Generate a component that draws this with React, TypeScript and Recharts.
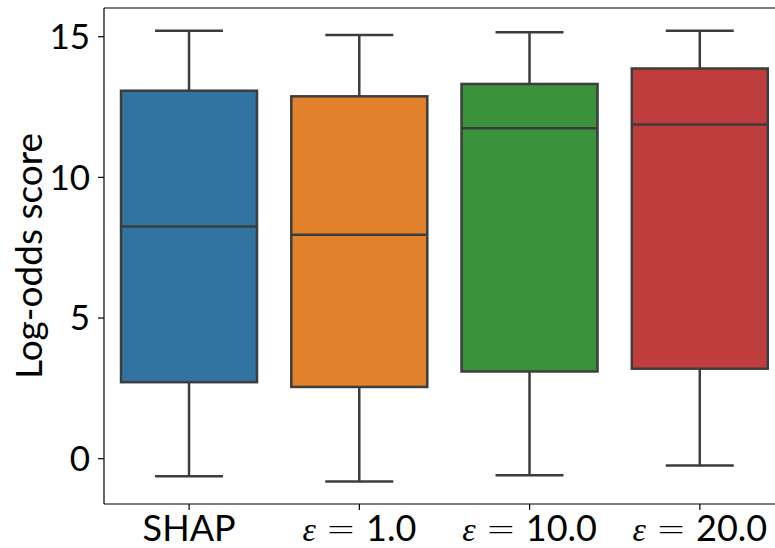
import React from 'react';
import { BarChart, Bar, XAxis, YAxis, ReferenceLine, Cell } from 'recharts';

// box statistics per method (log-odds score)
const categories = ['SHAP', 'ε = 1.0', 'ε = 10.0', 'ε = 20.0'];
const whiskerLow = [-0.62, -0.81, -0.59, -0.24];
const q1 = [2.72, 2.55, 3.1, 3.2];
const median = [8.25, 7.96, 11.75, 11.88];
const q3 = [13.08, 12.88, 13.32, 13.87];
const whiskerHigh = [15.21, 15.06, 15.16, 15.21];
const yTicks = [0, 5, 10, 15];

const COLORS = ['#3274a1', '#e1812c', '#3a923a', '#c03d3e'];
const LINE = '#3d3d3d';
const FONT = 'Lato, "DejaVu Sans", sans-serif';

const data = categories.map((name, i) => ({
  name,
  lo: whiskerLow[i],
  q1: q1[i],
  med: median[i],
  q3: q3[i],
  hi: whiskerHigh[i],
}));

// bar spans [lo, hi]; the rest of the box is placed along that same scale
function BoxShape(props: any) {
  const { x, y, width, height, payload, fill } = props;
  const top = Math.min(y, y + height);
  const h = Math.abs(height);
  const { lo, hi } = payload;
  const py = (v: number) => top + (h * (hi - v)) / (hi - lo);
  const cx = x + width / 2;
  const capHalf = width / 4;
  const sw = 2.5;
  return (
    <g>
      <line x1={cx} x2={cx} y1={py(hi)} y2={py(payload.q3)} stroke={LINE} strokeWidth={sw} />
      <line x1={cx} x2={cx} y1={py(payload.q1)} y2={py(lo)} stroke={LINE} strokeWidth={sw} />
      <line x1={cx - capHalf} x2={cx + capHalf} y1={py(hi)} y2={py(hi)} stroke={LINE} strokeWidth={sw} />
      <line x1={cx - capHalf} x2={cx + capHalf} y1={py(lo)} y2={py(lo)} stroke={LINE} strokeWidth={sw} />
      <rect
        x={x}
        y={py(payload.q3)}
        width={width}
        height={py(payload.q1) - py(payload.q3)}
        fill={fill}
        stroke={LINE}
        strokeWidth={sw}
      />
      <line x1={x} x2={x + width} y1={py(payload.med)} y2={py(payload.med)} stroke={LINE} strokeWidth={sw} />
    </g>
  );
}

function CategoryTick(props: any) {
  const { x, y, payload } = props;
  const label: string = payload.value;
  const parts = label.split(' = ');
  if (parts.length < 2) {
    return (
      <text x={x} y={y} dy={29} textAnchor="middle" fontFamily={FONT} fontSize={36} fill="#000">
        {label}
      </text>
    );
  }
  return (
    <text x={x} y={y} dy={29} textAnchor="middle" fontSize={36} fill="#000">
      <tspan fontFamily='"Liberation Serif", serif' fontStyle="italic" fontSize={34}>
        {parts[0]}
      </tspan>
      <tspan fontFamily='"DejaVu Sans", sans-serif' fontWeight={300} dx={10}>
        =
      </tspan>
      <tspan fontFamily={FONT} dx={10}>
        {parts[1]}
      </tspan>
    </text>
  );
}

function AxisTitle() {
  return (
    <text
      transform="translate(42, 256) rotate(-90)"
      textAnchor="middle"
      fontFamily={FONT}
      fontSize={37}
      fill="#000"
    >
      Log-odds score
    </text>
  );
}

export default function App() {
  return (
    <div
      style={{
        position: 'fixed',
        left: 0,
        top: 0,
        width: 775,
        height: 548,
        overflow: 'hidden',
        background: '#fff',
      }}
    >
      <BarChart
        width={790}
        height={548}
        data={data}
        margin={{ top: 8, right: 5, bottom: 0, left: 0 }}
        barCategoryGap="10%"
      >
        <XAxis
          dataKey="name"
          height={44}
          tick={<CategoryTick />}
          tickSize={6}
          axisLine={{ stroke: '#000', strokeWidth: 1.2 }}
          tickLine={{ stroke: '#000', strokeWidth: 1.2 }}
          interval={0}
        />
        <YAxis
          type="number"
          domain={[-1.61, 16.02]}
          ticks={yTicks}
          width={104}
          tickSize={6}
          tickMargin={8}
          tick={{ fontFamily: FONT, fontSize: 35, fill: '#000' }}
          axisLine={{ stroke: '#000', strokeWidth: 1.2 }}
          tickLine={{ stroke: '#000', strokeWidth: 1.2 }}
          allowDataOverflow
        />
        <ReferenceLine y={16.02} stroke="#000" strokeWidth={1.2} />
        <Bar
          dataKey={(d: any) => [d.lo, d.hi]}
          shape={<BoxShape />}
          isAnimationActive={false}
        >
          {data.map((_, i) => (
            <Cell key={i} fill={COLORS[i]} />
          ))}
        </Bar>
        <AxisTitle />
      </BarChart>
    </div>
  );
}
